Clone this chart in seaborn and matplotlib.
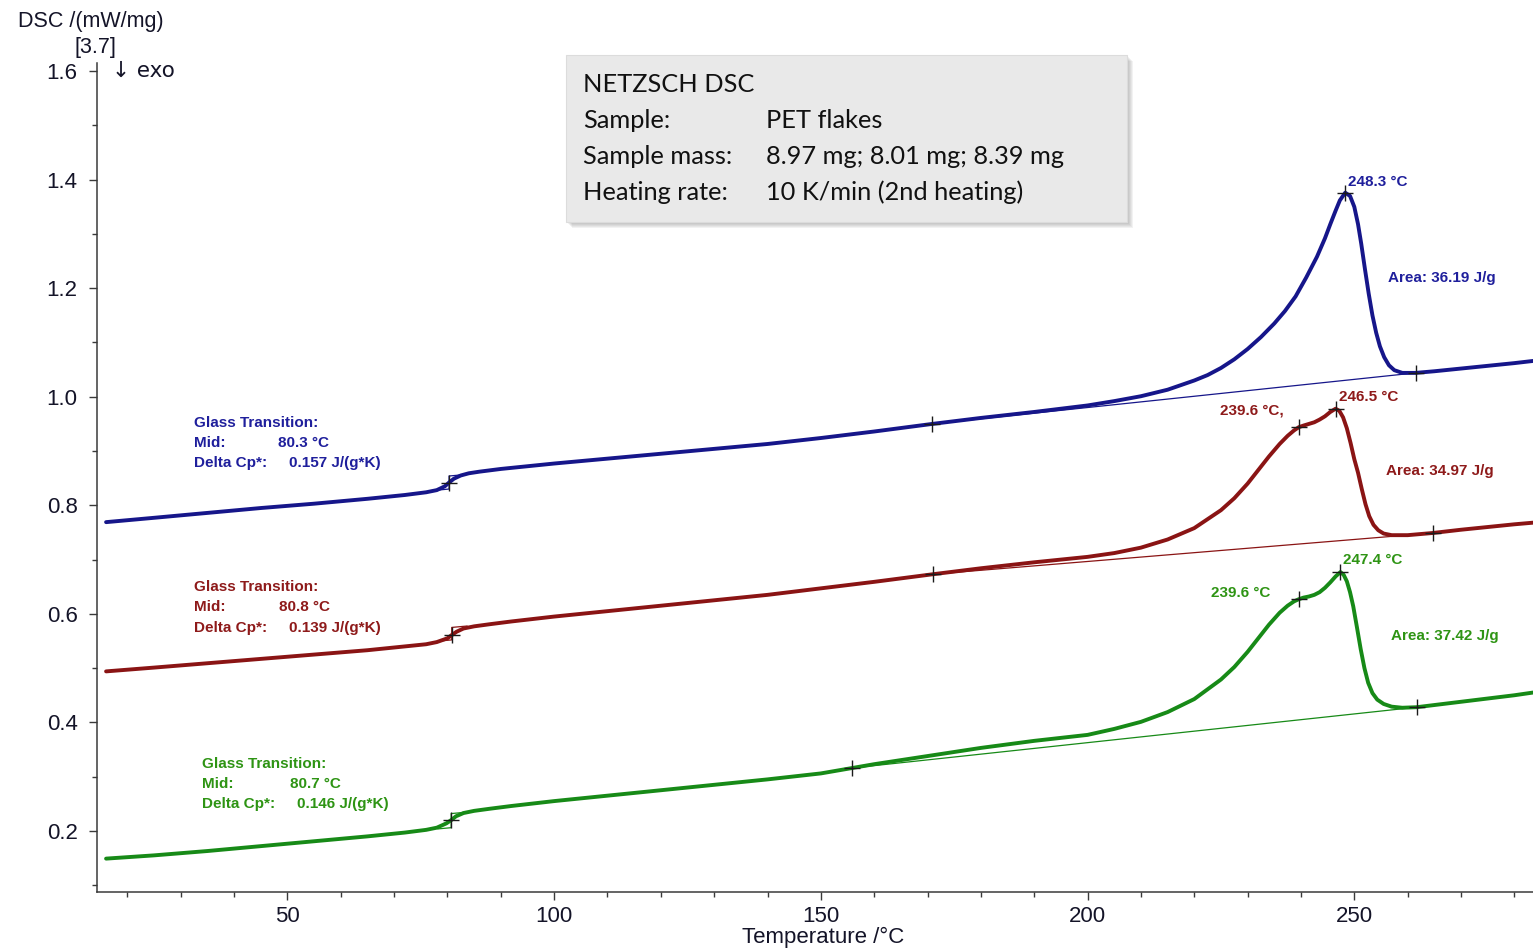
import numpy as np
import pandas as pd
import matplotlib
matplotlib.use("Agg")
import matplotlib.pyplot as plt
import seaborn as sns
from matplotlib.patches import Rectangle
from matplotlib.ticker import MultipleLocator, FormatStrFormatter

# ---- DSC traces (2nd heating, 10 K/min) ----
temp_blue = [16, 25, 35, 45, 55, 65, 72, 76, 78, 79.5, 80.3, 81.2, 82.5, 84, 86, 90, 95,
             100, 110, 120, 130, 140, 150, 160, 170.9, 180, 190, 200, 205, 210, 215, 220,
             222.5, 225, 227.5, 230, 232.5, 235, 237, 239, 241, 243, 244.5, 245.5, 246.5,
             247.3, 248.3, 249.2, 250, 250.7, 251.3, 252, 252.7, 253.4, 254.1, 254.8,
             255.6, 256.5, 257.5, 259, 261.5, 265, 270, 275, 280, 283.5]
dsc_blue = [0.769, 0.777, 0.786, 0.795, 0.803, 0.812, 0.819, 0.824, 0.828, 0.835, 0.842,
            0.849, 0.855, 0.859, 0.862, 0.867, 0.872, 0.877, 0.886, 0.895, 0.904, 0.913,
            0.924, 0.936, 0.950, 0.961, 0.972, 0.984, 0.992, 1.001, 1.013, 1.030,
            1.040, 1.053, 1.069, 1.088, 1.110, 1.135, 1.158, 1.185, 1.220, 1.258, 1.292,
            1.318, 1.343, 1.362, 1.376, 1.370, 1.350, 1.318, 1.282, 1.235, 1.190, 1.150,
            1.118, 1.093, 1.073, 1.058, 1.049, 1.044, 1.044, 1.047, 1.052, 1.057, 1.062,
            1.066]

temp_red = [16, 25, 35, 45, 55, 65, 72, 76, 78, 80, 80.8, 81.7, 83, 85, 88, 92, 100, 110,
            120, 130, 140, 150, 160, 171, 180, 190, 200, 205, 210, 215, 220, 225, 227.5,
            230, 232, 234, 236, 237.5, 238.7, 239.6, 240.5, 241.5, 242.5, 243.5, 244.5,
            245.5, 246.5, 247.2, 247.9, 248.6, 249.3, 250, 250.7, 251.4, 252.1, 252.8,
            253.6, 254.5, 255.5, 257, 260, 264.7, 270, 275, 280, 283.5]
dsc_red = [0.494, 0.501, 0.509, 0.517, 0.525, 0.533, 0.540, 0.544, 0.548, 0.555, 0.561,
           0.567, 0.573, 0.577, 0.581, 0.586, 0.595, 0.605, 0.615, 0.625, 0.635, 0.647,
           0.659, 0.673, 0.684, 0.695, 0.705, 0.712, 0.722, 0.737, 0.758, 0.791, 0.813,
           0.840, 0.865, 0.890, 0.913, 0.928, 0.938, 0.944, 0.947, 0.950, 0.953, 0.958,
           0.964, 0.972, 0.978, 0.974, 0.962, 0.942, 0.915, 0.885, 0.860, 0.830, 0.802,
           0.780, 0.764, 0.754, 0.748, 0.745, 0.745, 0.749, 0.755, 0.760, 0.765, 0.768]

temp_green = [16, 25, 35, 45, 55, 65, 72, 76, 78, 79.8, 80.7, 81.6, 83, 85, 88, 92, 100,
              110, 120, 130, 140, 150, 155.9, 160, 170, 180, 190, 200, 205, 210, 215, 220,
              225, 227.5, 230, 232, 234, 236, 237.5, 238.7, 239.6, 240.5, 241.5, 242.5,
              243.5, 244.5, 245.5, 246.5, 247.4, 248, 248.6, 249.2, 249.8, 250.5, 251.2,
              251.9, 252.6, 253.4, 254.3, 255.5, 257, 259, 261.7, 265, 270, 275, 280, 283.5]
dsc_green = [0.149, 0.155, 0.163, 0.172, 0.181, 0.190, 0.197, 0.202, 0.206, 0.214, 0.220,
             0.227, 0.233, 0.237, 0.241, 0.246, 0.255, 0.265, 0.275, 0.285, 0.295, 0.306,
             0.316, 0.323, 0.338, 0.353, 0.366, 0.377, 0.388, 0.401, 0.419, 0.443,
             0.479, 0.502, 0.530, 0.555, 0.580, 0.602, 0.615, 0.623, 0.627, 0.630, 0.632,
             0.635, 0.640, 0.648, 0.658, 0.669, 0.677, 0.672, 0.660, 0.640, 0.614, 0.575,
             0.535, 0.500, 0.473, 0.454, 0.442, 0.434, 0.429, 0.427, 0.428, 0.432, 0.438,
             0.444, 0.450, 0.455]

samples = ["blue", "red", "green"]
# evaluated temperatures: Tg mid, baseline start, peak(s), baseline end
marks_blue = [80.3, 170.9, 248.3, 261.5]
marks_red = [80.8, 171, 239.6, 246.5, 264.7]
marks_green = [80.7, 155.9, 239.6, 247.4, 261.7]
# glass transition: mid temperature, extrapolated lower / upper baseline levels
tg_mid = [80.3, 80.8, 80.7]
tg_lower = [0.830, 0.552, 0.206]
tg_upper = [0.854, 0.575, 0.232]
tg_dcp = ["0.157", "0.139", "0.146"]
areas = ["36.19", "34.97", "37.42"]

line_colors = {"blue": "#16168a", "red": "#8a1414", "green": "#178a17"}
text_colors = {"blue": "#1f1f9c", "red": "#8e1a1a", "green": "#2e9414"}

df = pd.concat([
    pd.DataFrame({"T": temp_blue, "DSC": dsc_blue, "sample": "blue"}),
    pd.DataFrame({"T": temp_red, "DSC": dsc_red, "sample": "red"}),
    pd.DataFrame({"T": temp_green, "DSC": dsc_green, "sample": "green"}),
], ignore_index=True)

sns.set_style("ticks")
plt.rcParams["font.family"] = ["Liberation Sans", "DejaVu Sans"]

W, H = 1533, 952
fig = plt.figure(figsize=(W / 100, H / 100), dpi=100)
ax = fig.add_axes([97 / W, 1 - 892 / H, 1 - 97 / W, (892 - 63) / H])

# integration baselines and Tg tangent constructions (thin)
curves = {"blue": (temp_blue, dsc_blue, marks_blue),
          "red": (temp_red, dsc_red, marks_red),
          "green": (temp_green, dsc_green, marks_green)}
for i, s in enumerate(samples):
    t, d, m = curves[s]
    c = line_colors[s]
    x0, x1 = m[1], m[-1]
    ax.plot([x0, x1], [np.interp(x0, t, d), np.interp(x1, t, d)], color=c, lw=0.9, zorder=2)
    g, lo, hi = tg_mid[i], tg_lower[i], tg_upper[i]
    slope = 0.0009
    ax.plot([g - 2.5, g, g, g + 2.9],
            [lo - 2.5 * slope, lo, hi, hi + 2.9 * slope], color=c, lw=0.9, zorder=2)

sns.lineplot(data=df, x="T", y="DSC", hue="sample", palette=line_colors,
             sort=False, estimator=None, linewidth=2.8, legend=False, ax=ax, zorder=3)

for s in samples:
    t, d, m = curves[s]
    ax.plot(m, np.interp(m, t, d), linestyle="none", marker="+", markersize=11,
            markeredgewidth=1.0, color="#1a1a1a", zorder=4)

ax.set_xlim(14.3, 283.5)
ax.set_ylim(0.0875, 1.615)
ax.xaxis.set_major_locator(MultipleLocator(50))
ax.xaxis.set_minor_locator(MultipleLocator(10))
ax.yaxis.set_major_locator(MultipleLocator(0.2))
ax.yaxis.set_minor_locator(MultipleLocator(0.1))
ax.yaxis.set_major_formatter(FormatStrFormatter("%.1f"))
ax.set_xlabel("")
ax.set_ylabel("")
sns.despine(ax=ax)
for sp in ("left", "bottom"):
    ax.spines[sp].set_color("#3a3a3a")
    ax.spines[sp].set_linewidth(1.1)
ax.tick_params(axis="both", which="major", direction="out", length=6, width=1,
               color="#3a3a3a", labelsize=16, labelcolor="#141428")
ax.tick_params(axis="both", which="minor", direction="out", length=3.5, width=1,
               color="#3a3a3a")
ax.tick_params(axis="y", which="major", pad=8)
ax.tick_params(axis="x", which="major", pad=4)

# axis titles
fig.text(18 / W, 1 - 21 / H, "DSC /(mW/mg)", fontsize=15.5, color="#141428", va="center")
fig.text(75 / W, 1 - 47 / H, "[3.7]", fontsize=15.5, color="#141428", va="center")
fig.text(112 / W, 1 - 71 / H, "\u2193 exo", fontsize=15.5, color="#141428", va="center",
         family=["DejaVu Sans"])
fig.text(823 / W, 1 - 937 / H, "Temperature /\u00b0C", fontsize=16, color="#141428",
         ha="center", va="center")

# glass transition annotations
tg_rows = {"blue": (32.4, 48.3, 50.2, [0.952, 0.915, 0.878]),
           "red": (32.4, 48.5, 50.2, [0.649, 0.612, 0.574]),
           "green": (33.9, 50.4, 51.7, [0.323, 0.286, 0.249])}
ann = dict(fontsize=11, fontweight="bold", va="center", ha="left")
for i, s in enumerate(samples):
    x0, xm, xd, rows = tg_rows[s]
    c = text_colors[s]
    ax.text(x0, rows[0], "Glass Transition:", color=c, **ann)
    ax.text(x0, rows[1], "Mid:", color=c, **ann)
    ax.text(xm, rows[1], f"{tg_mid[i]:.1f} \u00b0C", color=c, **ann)
    ax.text(x0, rows[2], "Delta Cp*:", color=c, **ann)
    ax.text(xd, rows[2], f"{tg_dcp[i]} J/(g*K)", color=c, **ann)

# peak and area annotations
ax.text(248.8, 1.395, f"{marks_blue[2]:.1f} \u00b0C", color=text_colors["blue"], **ann)
ax.text(256.3, 1.219, f"Area: {areas[0]} J/g", color=text_colors["blue"], **ann)
ax.text(224.8, 0.974, f"{marks_red[2]:.1f} \u00b0C,", color=text_colors["red"], **ann)
ax.text(247.1, 1.000, f"{marks_red[3]:.1f} \u00b0C", color=text_colors["red"], **ann)
ax.text(255.9, 0.863, f"Area: {areas[1]} J/g", color=text_colors["red"], **ann)
ax.text(223.1, 0.638, f"{marks_green[2]:.1f} \u00b0C", color=text_colors["green"], **ann)
ax.text(247.8, 0.699, f"{marks_green[3]:.1f} \u00b0C", color=text_colors["green"], **ann)
ax.text(256.8, 0.559, f"Area: {areas[2]} J/g", color=text_colors["green"], **ann)

# instrument / sample info box with soft drop shadow
bx, by, bw, bh = 566, 55, 561, 167
for k in range(1, 7):
    fig.patches.append(Rectangle(((bx + k) / W, 1 - (by + bh + k) / H), bw / W, bh / H,
                                 transform=fig.transFigure, facecolor="#808080",
                                 edgecolor="none", alpha=0.10, zorder=5))
fig.patches.append(Rectangle((bx / W, 1 - (by + bh) / H), bw / W, bh / H,
                             transform=fig.transFigure, facecolor="#e9e9e9",
                             edgecolor="#dcdcdc", lw=0.8, zorder=6))
info_rows = [("NETZSCH DSC", ""),
             ("Sample:", "PET flakes"),
             ("Sample mass:", "8.97 mg; 8.01 mg; 8.39 mg"),
             ("Heating rate:", "10 K/min (2nd heating)")]
row_y = [85, 121, 156, 192]
for (lab, val), yy in zip(info_rows, row_y):
    fig.text(583 / W, 1 - yy / H, lab, fontsize=18.3, family="Lato", color="#111111",
             va="center", zorder=7)
    if val:
        fig.text(766 / W, 1 - yy / H, val, fontsize=18.3, family="Lato", color="#111111",
                 va="center", zorder=7)

fig.savefig("out.png", dpi=100, facecolor="white")
